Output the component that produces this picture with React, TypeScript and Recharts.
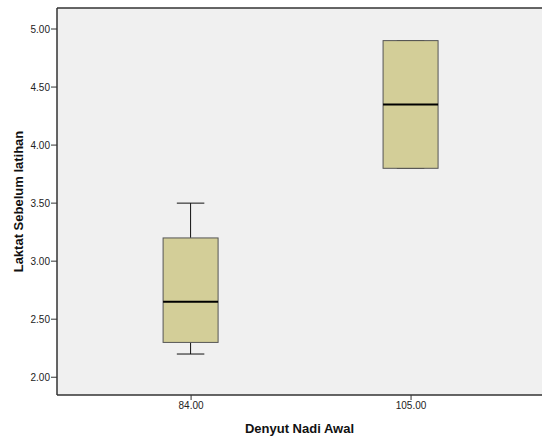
import React from 'react';
import {
  ComposedChart,
  Bar,
  XAxis,
  YAxis,
  ReferenceArea,
  ReferenceLine,
} from 'recharts';

// Denyut Nadi Awal groups
const groups = [84, 105];
// five-number summary per group (Laktat Sebelum latihan)
const minVals = [2.2, 3.8];
const q1Vals = [2.3, 3.8];
const medianVals = [2.65, 4.35];
const q3Vals = [3.2, 4.9];
const maxVals = [3.5, 4.9];

const yTicks = [2.0, 2.5, 3.0, 3.5, 4.0, 4.5, 5.0];

const data = groups.map((g, i) => ({
  group: g,
  min: minVals[i],
  q1: q1Vals[i],
  median: medianVals[i],
  q3: q3Vals[i],
  max: maxVals[i],
}));

const Y_DOMAIN: [number, number] = [1.847, 5.181];
const X_DOMAIN: [number, number] = [71.2, 117.5];

const BoxShape = (props: any) => {
  const { x, y, width, height, payload } = props;
  const top = Math.min(y, y + height);
  const h = Math.abs(height);
  const { min, max, q1, median, q3 } = payload;
  const span = max - min || 1;
  const py = (v: number) => top + ((max - v) / span) * h;
  const cx = x + width / 2;
  const capHalf = width / 4;
  return (
    <g>
      <line x1={cx} x2={cx} y1={py(max)} y2={py(q3)} stroke="#111" strokeWidth={1} />
      <line x1={cx} x2={cx} y1={py(q1)} y2={py(min)} stroke="#111" strokeWidth={1} />
      <line x1={cx - capHalf} x2={cx + capHalf} y1={py(max)} y2={py(max)} stroke="#111" strokeWidth={1} />
      <line x1={cx - capHalf} x2={cx + capHalf} y1={py(min)} y2={py(min)} stroke="#111" strokeWidth={1} />
      <rect
        x={x}
        y={py(q3)}
        width={width}
        height={py(q1) - py(q3)}
        fill="#D3CE98"
        stroke="#555"
        strokeWidth={1}
      />
      <line x1={x} x2={x + width} y1={py(median)} y2={py(median)} stroke="#000" strokeWidth={2} />
    </g>
  );
};

const tickStyle = { fontSize: 10, fill: '#222', fontFamily: 'Arial, "Liberation Sans", sans-serif' };
const labelStyle = {
  fontSize: 13,
  fontWeight: 'bold',
  fill: '#111',
  fontFamily: 'Arial, "Liberation Sans", sans-serif',
};

export default function App() {
  return (
    <div style={{ position: 'absolute', left: 0, top: 0, width: 542, height: 439, background: '#fff' }}>
      <ComposedChart
        width={542}
        height={439}
        data={data}
        margin={{ top: 8, right: 0, bottom: 0, left: 0 }}
      >
        <ReferenceArea
          x1={X_DOMAIN[0]}
          x2={X_DOMAIN[1]}
          y1={Y_DOMAIN[0]}
          y2={Y_DOMAIN[1]}
          fill="#F0F0F0"
          fillOpacity={1}
          stroke="none"
        />
        <ReferenceLine y={Y_DOMAIN[1]} stroke="#333" strokeWidth={1.5} />
        <XAxis
          dataKey="group"
          type="number"
          domain={X_DOMAIN}
          ticks={groups}
          tickFormatter={(v: number) => v.toFixed(2)}
          height={44}
          tickSize={5}
          tick={tickStyle}
          axisLine={{ stroke: '#333', strokeWidth: 1.5 }}
          tickLine={{ stroke: '#333' }}
          allowDataOverflow
          label={{ value: 'Denyut Nadi Awal', position: 'center', dy: 11, style: labelStyle }}
        />
        <YAxis
          type="number"
          domain={Y_DOMAIN}
          ticks={yTicks}
          tickFormatter={(v: number) => v.toFixed(2)}
          width={57}
          tickSize={6}
          tickMargin={1}
          tick={tickStyle}
          axisLine={{ stroke: '#333', strokeWidth: 1.5 }}
          tickLine={{ stroke: '#333' }}
          allowDataOverflow
          label={{
            value: 'Laktat Sebelum latihan',
            angle: -90,
            position: 'center',
            dx: -10,
            style: labelStyle,
          }}
        />
        <Bar
          dataKey={(d: any) => [d.min, d.max]}
          barSize={55}
          shape={BoxShape}
          isAnimationActive={false}
        />
      </ComposedChart>
    </div>
  );
}
